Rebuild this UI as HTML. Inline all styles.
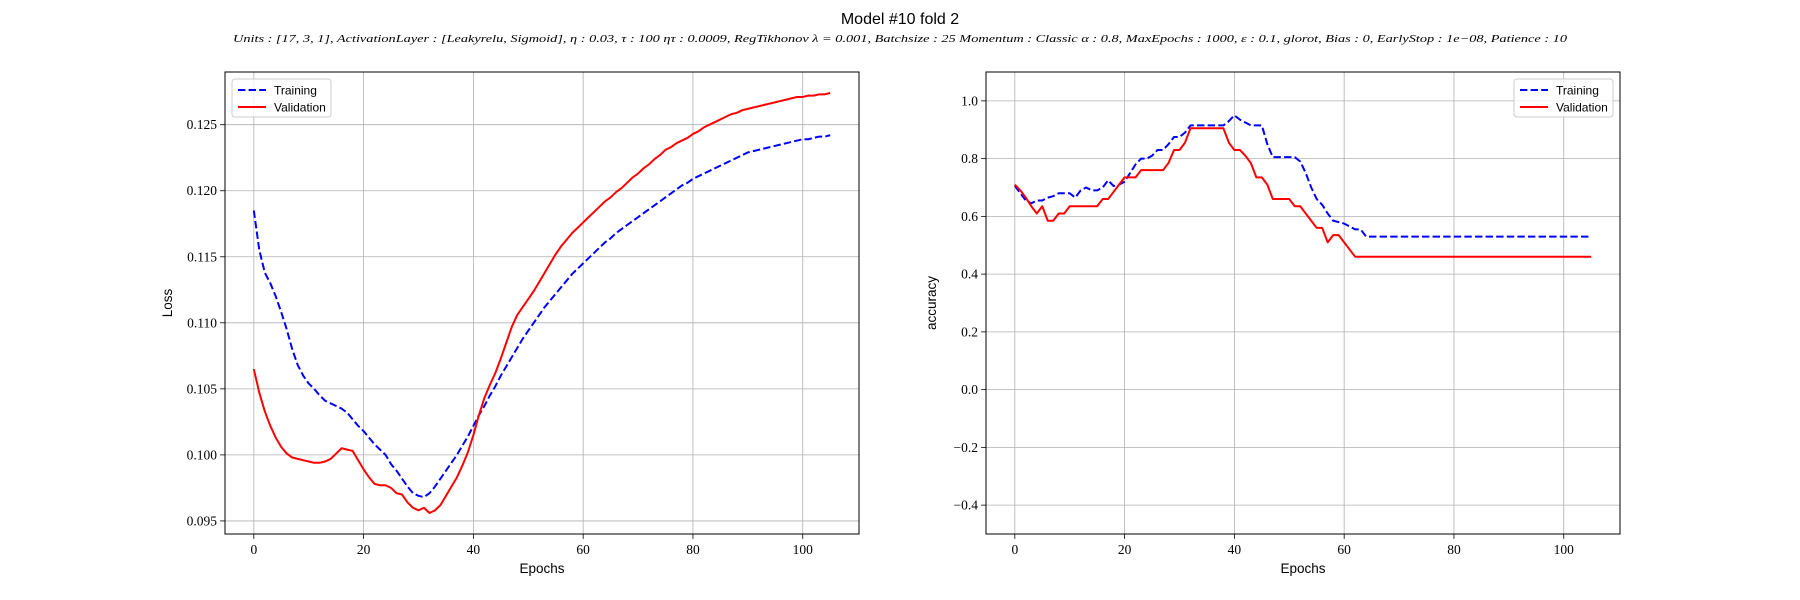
<!DOCTYPE html>
<html><head><meta charset="utf-8"><style>
html,body{margin:0;padding:0;background:#fff;}
svg{display:block;}
text{font-family:"Liberation Sans",sans-serif;}
.tick{font-family:"Liberation Serif",serif;font-size:13.5px;}
</style></head>
<body>
<svg id="fig" width="1800" height="600" viewBox="0 0 1800 600" xmlns="http://www.w3.org/2000/svg">
<rect width="1800" height="600" fill="#fff"/>
<text x="900" y="24" text-anchor="middle" font-size="16">Model #10 fold 2</text>
<text x="900" y="42" text-anchor="middle" font-size="11" font-style="italic" style="font-family:'Liberation Serif',serif" textLength="1334" lengthAdjust="spacingAndGlyphs">Units : [17, 3, 1], ActivationLayer : [Leakyrelu, Sigmoid], η : 0.03, τ : 100 ητ : 0.0009, RegTikhonov λ = 0.001, Batchsize : 25 Momentum : Classic α : 0.8, MaxEpochs : 1000, ε : 0.1, glorot, Bias : 0, EarlyStop : 1e−08, Patience : 10</text>
<g id="left"></g>
<g id="right"></g>
</svg>
<script>
const lossTrain=[.1185,.1155,.1138,.1130,.1120,.1108,.1095,.1080,.1068,.1060,
.1054,.1050,.1045,.1041,.1039,.1037,.1035,.1032,.1027,.1022,
.1018,.1013,.1008,.1004,.1000,.0993,.0988,.0982,.0976,.0971,
.0969,.0968,.0971,.0976,.0982,.0988,.0994,.1000,.1007,.1014,
.1022,.1030,.1037,.1045,.1052,.1060,.1067,.1074,.1081,.1088,
.1094,.1100,.1106,.1112,.1117,.1122,.1127,.1132,.1137,.1141,
.1145,.1149,.1153,.1157,.1161,.1164,.1168,.1171,.1174,.1177,
.1180,.1183,.1186,.1189,.1192,.1195,.1198,.1201,.1204,.1206,
.1209,.1211,.1213,.1215,.1217,.1219,.1221,.1223,.1225,.1227,
.1229,.1230,.1231,.1232,.1233,.1234,.1235,.1236,.1237,.1238,
.1239,.1239,.1240,.1241,.1241,.1242];
const lossVal=[.1065,.1047,.1033,.1022,.1013,.1006,.1001,.0998,.0997,.0996,
.0995,.0994,.0994,.0995,.0997,.1001,.1005,.1004,.1003,.0996,
.0989,.0983,.0978,.0977,.0977,.0975,.0971,.0970,.0964,.0960,
.0958,.0960,.0956,.0958,.0962,.0969,.0976,.0983,.0992,.1002,
.1015,.1030,.1043,.1053,.1062,.1073,.1085,.1097,.1106,.1112,
.1118,.1124,.1131,.1138,.1145,.1152,.1158,.1163,.1168,.1172,
.1176,.1180,.1184,.1188,.1192,.1195,.1199,.1202,.1206,.1210,
.1213,.1217,.1220,.1224,.1227,.1231,.1233,.1236,.1238,.1240,
.1243,.1245,.1248,.1250,.1252,.1254,.1256,.1258,.1259,.1261,
.1262,.1263,.1264,.1265,.1266,.1267,.1268,.1269,.1270,.1271,
.1271,.1272,.1272,.1273,.1273,.1274];
const accTrain=[.706,.68,.655,.645,.655,.655,.665,.67,.68,.68,
.68,.665,.69,.70,.69,.69,.70,.725,.705,.71,
.72,.75,.78,.80,.80,.81,.83,.83,.85,.875,
.875,.89,.915,.915,.915,.915,.915,.915,.915,.93,
.95,.935,.925,.915,.915,.915,.85,.805,.805,.805,
.805,.805,.79,.75,.70,.66,.64,.61,.585,.58,
.575,.565,.555,.555,.53,.53,.53,.53,.53,.53,
.53,.53,.53,.53,.53,.53,.53,.53,.53,.53,
.53,.53,.53,.53,.53,.53,.53,.53,.53,.53,
.53,.53,.53,.53,.53,.53,.53,.53,.53,.53,
.53,.53,.53,.53,.53,.53];
const accVal=[.71,.69,.665,.635,.61,.635,.585,.585,.61,.61,
.635,.635,.635,.635,.635,.635,.66,.66,.685,.71,
.735,.735,.735,.76,.76,.76,.76,.76,.785,.83,
.83,.855,.905,.905,.905,.905,.905,.905,.905,.855,
.83,.83,.81,.785,.735,.735,.71,.66,.66,.66,
.66,.635,.635,.61,.585,.56,.56,.51,.535,.535,
.51,.485,.46,.46,.46,.46,.46,.46,.46,.46,
.46,.46,.46,.46,.46,.46,.46,.46,.46,.46,
.46,.46,.46,.46,.46,.46,.46,.46,.46,.46,
.46,.46,.46,.46,.46,.46,.46,.46,.46,.46,
.46,.46,.46,.46,.46,.46];
const xTicks=[0,20,40,60,80,100];
const lossTicks=[0.095,0.100,0.105,0.110,0.115,0.120,0.125];
const accTicks=[-0.4,-0.2,0.0,0.2,0.4,0.6,0.8,1.0];

const NS="http://www.w3.org/2000/svg";
function mk(parent,tag,attrs){const e=document.createElementNS(NS,tag);for(const k in attrs)e.setAttribute(k,attrs[k]);parent.appendChild(e);return e;}

function drawChart(gid,left,ymin,ymax,yticks,ydec,ylabel,train,val,legendRight,prefix){
  const g=document.getElementById(gid);
  const top=72,bottom=534,width=634,right=left+width;
  const n=train.length, xmin=-0.05*(n-1), xmax=(n-1)*1.05;
  const X=v=>left+(v-xmin)/(xmax-xmin)*width;
  const Y=v=>bottom-(v-ymin)/(ymax-ymin)*(bottom-top);
  xTicks.forEach(t=>{
    const l=mk(g,'line',{x1:X(t),x2:X(t),y1:top,y2:bottom,stroke:'#b0b0b0','stroke-width':0.8});
    
    
    mk(g,'line',{x1:X(t),x2:X(t),y1:bottom,y2:bottom+4.9,stroke:'#000','stroke-width':0.8});
    const tx=mk(g,'text',{x:X(t),y:bottom+20,'text-anchor':'middle',class:'tick'});
    tx.textContent=String(t);
    
    
  });
  yticks.forEach(t=>{
    const l=mk(g,'line',{x1:left,x2:right,y1:Y(t),y2:Y(t),stroke:'#b0b0b0','stroke-width':0.8});
    
    
    mk(g,'line',{x1:left-4.9,x2:left,y1:Y(t),y2:Y(t),stroke:'#000','stroke-width':0.8});
    const tx=mk(g,'text',{x:left-8,y:Y(t)+4.5,'text-anchor':'end',class:'tick'});
    tx.textContent=t.toFixed(ydec).replace('-','\u2212');
    
    
  });
  const pts=a=>a.map((v,i)=>X(i).toFixed(2)+','+Y(v).toFixed(2)).join(' ');
  const pt=mk(g,'polyline',{points:pts(train),fill:'none',stroke:'#0000ff','stroke-width':2,'stroke-dasharray':'7.4,3.2','stroke-linejoin':'round'});
  
  
  const pv=mk(g,'polyline',{points:pts(val),fill:'none',stroke:'#ff0000','stroke-width':2,'stroke-linejoin':'round'});
  
  
  const fr=mk(g,'rect',{x:left,y:top,width:width,height:bottom-top,fill:'none',stroke:'#000','stroke-width':1});
  
  
  const xl=mk(g,'text',{x:left+width/2,y:bottom+39,'text-anchor':'middle','font-size':13.5});
  xl.textContent='Epochs';
  
  
  const yx=gid==='left'?172:936;
  const yl=mk(g,'text',{x:yx,y:(top+bottom)/2,'text-anchor':'middle','font-size':13.5,transform:'rotate(-90 '+yx+' '+(top+bottom)/2+')'});
  yl.textContent=ylabel;
  
  
  // legend
  const lw=99,lh=38, lx=legendRight?right-lw-7:left+7, ly=top+7;
  const lg=mk(g,'g',{});
  
  
  mk(lg,'rect',{x:lx,y:ly,width:lw,height:lh,rx:3,fill:'#fff','fill-opacity':0.8,stroke:'#cccccc','stroke-width':1});
  const entries=[['Training','#0000ff','7.4,3.2'],['Validation','#ff0000','']];
  entries.forEach((e,i)=>{
    const yy=ly+11+i*17;
    const en=mk(lg,'g',{});
    
    
    const a={x1:lx+6,x2:lx+34,y1:yy,y2:yy,stroke:e[1],'stroke-width':2};
    if(e[2])a['stroke-dasharray']=e[2];
    mk(en,'line',a);
    const t=mk(en,'text',{x:lx+42,y:yy+4.5,'font-size':12});
    t.textContent=e[0];
  });
}
drawChart('left',225,0.09401,0.12899,lossTicks,3,'Loss',lossTrain,lossVal,false,'loss-');
drawChart('right',986,-0.5,1.1,accTicks,1,'accuracy',accTrain,accVal,true,'acc-');
</script>
</body></html>
